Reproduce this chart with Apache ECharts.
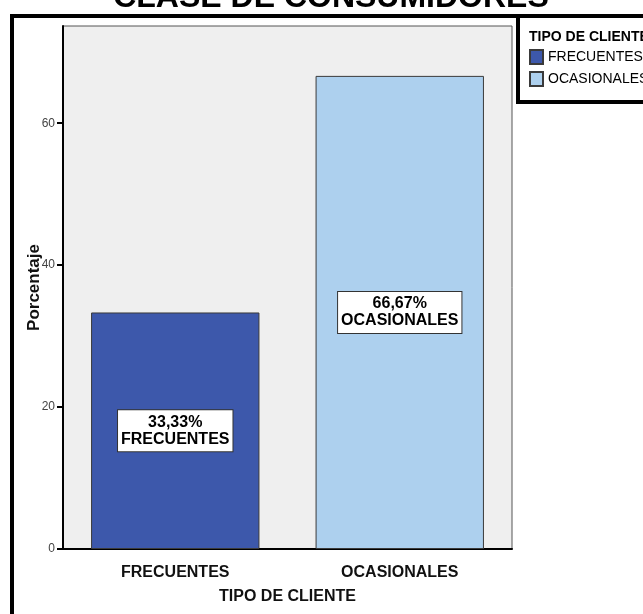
<!DOCTYPE html>
<html>
<head>
<meta charset="utf-8">
<script src="https://cdn.jsdelivr.net/npm/echarts@6/dist/echarts.min.js"></script>
<style>
  html, body { margin: 0; padding: 0; background: #ffffff; }
  #chart { width: 643px; height: 614px; }
</style>
</head>
<body>
<div id="chart"></div>
<script>
// Share of customers by type (percent)
const categories = ['FRECUENTES', 'OCASIONALES'];
const percentages = [33.33, 66.67];
const barColors = ['#3D58AB', '#ADD0EE'];
const yTicks = [0, 20, 40, 60];

const SANS = "'Liberation Sans', Arial, sans-serif";

const fmt = v => v.toFixed(2).replace('.', ',') + '%';

// One series per category so each gets its own legend entry; they overlap on the same slot
const series = categories.map((name, i) => ({
  name: name,
  type: 'bar',
  barWidth: '75%',
  barGap: '-100%',
  data: categories.map((c, j) => (j === i ? percentages[i] : '-')),
  itemStyle: { color: barColors[i], borderColor: '#3a3a3a', borderWidth: 1 },
  label: {
    show: true,
    position: 'inside',
    formatter: p => fmt(p.value) + '\n' + p.name,
    color: '#000',
    fontFamily: SANS,
    fontWeight: 'bold',
    fontSize: 16,
    lineHeight: 17,
    backgroundColor: '#ffffff',
    borderColor: '#333',
    borderWidth: 1,
    padding: [4, 3, 3, 3]
  }
}));

const chart = echarts.init(document.getElementById('chart'), null, { renderer: 'canvas' });

chart.setOption({
  animation: false,
  backgroundColor: '#ffffff',
  grid: {
    left: 63, right: 131, top: 26, bottom: 65,
    show: true,
    backgroundColor: '#EFEFEF',
    borderColor: '#555',
    borderWidth: 1
  },
  legend: {
    orient: 'vertical',
    left: 529,
    top: 49,
    padding: 0,
    icon: 'rect',
    itemWidth: 13,
    itemHeight: 14,
    itemGap: 6,
    data: categories,
    textStyle: { fontFamily: SANS, fontSize: 14, color: '#000' }
  },
  xAxis: {
    type: 'category',
    data: categories,
    axisLine: { lineStyle: { color: '#000', width: 2 } },
    axisTick: { alignWithLabel: true, length: 7, lineStyle: { color: '#000', width: 2 } },
    axisLabel: { fontFamily: SANS, fontWeight: 'bold', fontSize: 16, color: '#111', margin: 16 },
    name: 'TIPO DE CLIENTE',
    nameLocation: 'middle',
    nameGap: 40,
    nameMoveOverlap: false,
    nameTextStyle: { fontFamily: SANS, fontWeight: 'bold', fontSize: 16, color: '#111' }
  },
  yAxis: {
    type: 'value',
    min: 0,
    max: 73.7,
    interval: 20,
    splitLine: { show: false },
    axisLine: { show: true, lineStyle: { color: '#000', width: 2 } },
    axisTick: { show: true, length: 6, customValues: yTicks, lineStyle: { color: '#000', width: 2 } },
    axisLabel: { customValues: yTicks, fontFamily: SANS, fontSize: 12, color: '#444', margin: 8 },
    name: 'Porcentaje',
    nameLocation: 'middle',
    nameGap: 20,
    nameMoveOverlap: false,
    nameTextStyle: { fontFamily: SANS, fontWeight: 'bold', fontSize: 17, color: '#111' }
  },
  graphic: [
    // chart title, mostly clipped by the top edge
    { type: 'text', x: 331, y: 14,
      style: { text: 'CLASE DE CONSUMIDORES', font: "bold 32px 'Liberation Sans', Arial, sans-serif",
               fill: '#000', textAlign: 'center', textVerticalAlign: 'bottom' } },
    // outer frame (left and top edges)
    { type: 'line', shape: { x1: 12, y1: 16, x2: 12, y2: 620 }, style: { stroke: '#000', lineWidth: 4 } },
    { type: 'line', shape: { x1: 10, y1: 16, x2: 650, y2: 16 }, style: { stroke: '#000', lineWidth: 4 } },
    // legend box
    { type: 'line', shape: { x1: 518, y1: 14, x2: 518, y2: 104 }, style: { stroke: '#000', lineWidth: 4 } },
    { type: 'line', shape: { x1: 516, y1: 102, x2: 650, y2: 102 }, style: { stroke: '#000', lineWidth: 4 } },
    { type: 'text', x: 529, y: 30,
      style: { text: 'TIPO DE CLIENTE', font: "bold 14px 'Liberation Sans', Arial, sans-serif", fill: '#000' } }
  ],
  series: series
});
</script>
</body>
</html>
